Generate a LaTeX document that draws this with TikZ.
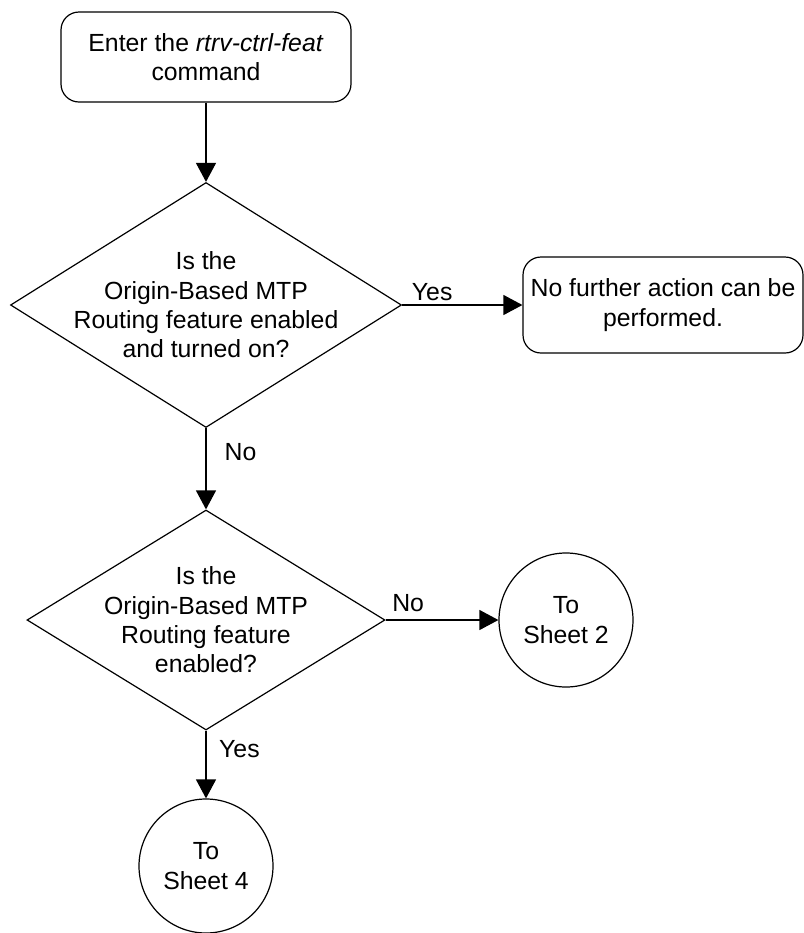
\documentclass[tikz,border=0pt]{standalone}
\usepackage{fontspec}
\setmainfont{Liberation Sans}
\usetikzlibrary{arrows.meta, shapes.geometric}
\definecolor{Ink}{HTML}{000000}
\definecolor{Paper}{HTML}{FFFFFF}

\begin{document}
\begin{tikzpicture}[x=0.5pt,y=-0.5pt,font=\fontsize{12.4}{14.7}\selectfont,flowarrow/.style={-{Triangle[length=9.5pt,width=10pt]}, line width=0.6pt, draw=Ink},roundbox/.style={draw=Ink, fill=Paper, rounded corners=9pt, line width=0.6pt, align=center, inner sep=2pt},decision/.style={diamond, draw=Ink, fill=Paper, line width=0.6pt, align=center, aspect=1.6, inner xsep=-20pt, inner ysep=-10pt},sheetlink/.style={circle, draw=Ink, fill=Paper, line width=0.6pt, align=center, minimum size=67pt, inner sep=1pt},edgelabel/.style={text=Ink, inner sep=2pt}]
\useasboundingbox[fill=Paper] (0,0) rectangle (804,933);
\node[roundbox, minimum width=145pt, minimum height=45pt] (enter) at (206,57) {Enter the \textit{rtrv-ctrl-feat}\\command};
\node[decision, minimum width=195.5pt, minimum height=122.5pt] (obmtpon) at (206,305) {Is the\\Origin-Based MTP\\Routing feature enabled\\and turned on?};
\node[roundbox, minimum width=140pt, minimum height=48pt] (nofurther) at (663,305) {No further action can be\\performed.};
\node[decision, minimum width=179pt, minimum height=110pt] (obmtpenabled) at (206,620) {Is the\\Origin-Based MTP\\Routing feature\\enabled?};
\node[sheetlink] (sheettwo) at (566,620) {To\\Sheet 2};
\node[sheetlink] (sheetfour) at (206,866) {To\\Sheet 4};
% connectors
\draw[flowarrow] (enter) -- (obmtpon);
\draw[flowarrow] (obmtpon) -- node[edgelabel, pos=0.25, anchor=south] {Yes} (nofurther);
\draw[flowarrow] (obmtpon) -- node[edgelabel, pos=0.29, right=7pt] {No} (obmtpenabled);
\draw[flowarrow] (obmtpenabled) -- node[edgelabel, pos=0.2, above=2pt] {No} (sheettwo);
\draw[flowarrow] (obmtpenabled) -- node[edgelabel, pos=0.27, right=4.3pt] {Yes} (sheetfour);
\end{tikzpicture}
\end{document}
